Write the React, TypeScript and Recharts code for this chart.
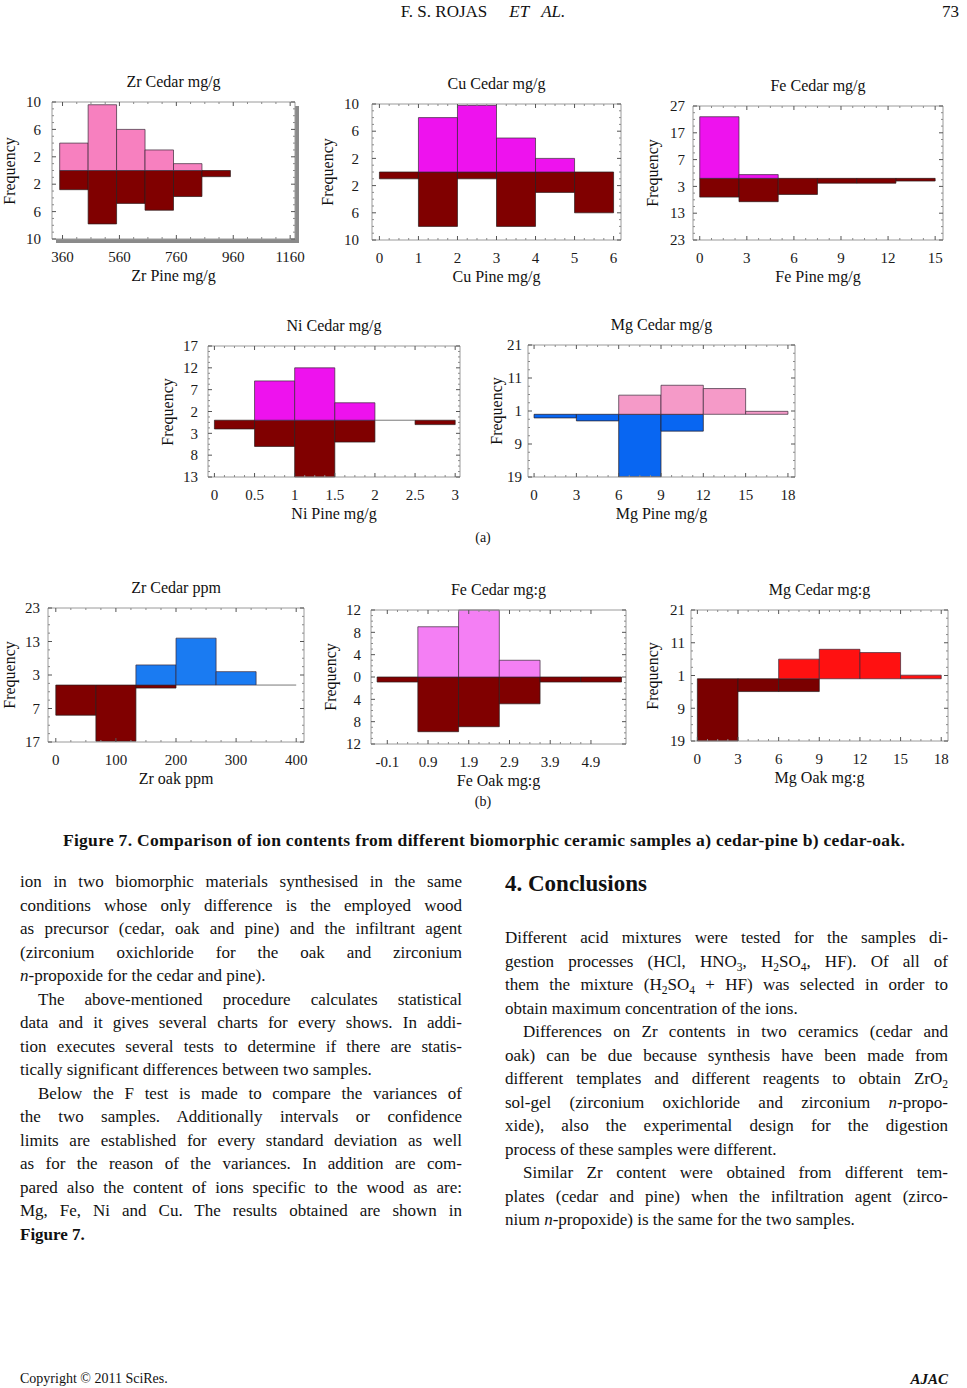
import React from 'react';
import { ComposedChart, XAxis, YAxis, ReferenceArea, ReferenceLine } from 'recharts';

const SERIF = '"Liberation Serif", "Times New Roman", serif';

// ---------- (a) cedar vs pine ----------
const zrPineBinEdges = [350, 450, 550, 650, 750, 850, 950];
const zrCedarCounts = [4, 9.6, 6, 3, 1, 0];
const zrPineCounts = [2.8, 7.8, 4.8, 5.8, 3.8, 0.9];
const zrPineTicks = [360, 560, 760, 960, 1160];

const cuBinEdges = [0, 1, 2, 3, 4, 5, 6];
const cuCedarCounts = [0, 8, 9.8, 5, 2, 0];
const cuPineCounts = [1, 8, 1, 8, 3, 6];
const cuTicks = [0, 1, 2, 3, 4, 5, 6];

const fePineBinEdges = [0, 2.5, 5, 7.5, 10, 12.5, 15];
const feCedarCounts = [23, 1.4, 0, 0, 0, 0];
const fePineCounts = [7, 8.7, 6, 1.8, 1.8, 1];
const fePineTicks = [0, 3, 6, 9, 12, 15];

const niBinEdges = [0, 0.5, 1, 1.5, 2, 2.5, 3];
const niCedarCounts = [0, 9, 12, 4, 0, 0];
const niPineCounts = [2, 6, 13, 5, 0, 1];
const niTicks = [0, 0.5, 1, 1.5, 2, 2.5, 3];

const mgPineBinEdges = [0, 3, 6, 9, 12, 15, 18];
const mgCedarCounts = [0, 0, 5.8, 8.8, 7.8, 0.9];
const mgPineCounts = [1.1, 2, 18.9, 5.1, 0, 0];
const mgPineTicks = [0, 3, 6, 9, 12, 15, 18];

// ---------- (b) cedar vs oak ----------
const zrOakBinEdges = [0, 66.7, 133.3, 200, 266.7, 333.3, 400];
const zrCedarPpm = [0, 0, 6, 14, 4, 0];
const zrOakPpm = [9, 16.8, 0.9, 0, 0, 0];
const zrOakTicks = [0, 100, 200, 300, 400];

const feOakBinEdges = [-0.35, 0.65, 1.65, 2.65, 3.65, 4.65, 5.65];
const feCedarOakCounts = [0, 9, 12, 3, 0, 0];
const feOakCounts = [0.9, 9.8, 8.9, 4.8, 0.9, 0.9];
const feOakTicks = [-0.1, 0.9, 1.9, 2.9, 3.9, 4.9];

const mgOakBinEdges = [0, 3, 6, 9, 12, 15, 18];
const mgCedarOakCounts = [0, 0, 6, 9, 8, 1.1];
const mgOakCounts = [19, 3.9, 3.9, 0, 0, 0];
const mgOakTicks = [0, 3, 6, 9, 12, 15, 18];

// ---------- frequency tick labels ----------
const freqTicksZrCu = [10, 6, 2, -2, -6, -10];
const freqTicksFe = [27, 17, 7, -3, -13, -23];
const freqTicksNi = [17, 12, 7, 2, -3, -8, -13];
const freqTicksMg = [21, 11, 1, -9, -19];
const freqTicksZrOak = [23, 13, 3, -7, -17];
const freqTicksFeOak = [12, 8, 4, 0, -4, -8, -12];

const withMinor = (ticks: number[], n: number) => {
  const s = [...ticks].sort((a, b) => a - b);
  const out: number[] = [];
  for (let i = 0; i < s.length; i++) {
    out.push(s[i]);
    if (i < s.length - 1)
      for (let k = 1; k < n; k++) out.push(+(s[i] + ((s[i + 1] - s[i]) * k) / n).toFixed(4));
  }
  return out;
};

type Box = { l: number; t: number; r: number; b: number };
type HistProps = {
  title: string;
  xTitle: string;
  edges: number[];
  top: number[];
  bottom: number[];
  xTicks: number[];
  xDomain: [number, number];
  yTicks: number[];
  topColor: string;
  bottomColor: string;
  box: Box;
  yGap: number;
  freqDx: number;
  shadow?: boolean;
};

const PL = 60, PT = 12, PR = 15, PB = 30;
const FRAME = '#9a9a9a';
const LABEL_FILL = '#1a1a1a';

type Side = 'left' | 'right' | 'top' | 'bottom';
const makeTick = (side: Side, majors: number[], gap: number, fmt: (v: number) => string) => (props: any) => {
  const { x, y, payload } = props;
  const v = payload ? payload.value : 0;
  const isMajor = majors.some((m) => Math.abs(m - v) < 1e-6);
  const len = isMajor ? 4 : 2;
  const stroke = isMajor ? '#555' : '#8a8a8a';
  let line = null;
  let label = null;
  if (side === 'left') {
    line = <line x1={x + gap} y1={y} x2={x + gap + len} y2={y} stroke={stroke} strokeWidth={1} />;
    if (isMajor)
      label = (
        <text x={x} y={y} dy="0.35em" textAnchor="end" fontSize={15} fontFamily={SERIF} fill={LABEL_FILL}>
          {fmt(v)}
        </text>
      );
  } else if (side === 'bottom') {
    line = <line x1={x} y1={y - gap} x2={x} y2={y - gap - len} stroke={stroke} strokeWidth={1} />;
    if (isMajor)
      label = (
        <text x={x} y={y} dy="0.71em" textAnchor="middle" fontSize={15} fontFamily={SERIF} fill={LABEL_FILL}>
          {fmt(v)}
        </text>
      );
  } else if (side === 'right') {
    line = <line x1={x} y1={y} x2={x - len} y2={y} stroke={stroke} strokeWidth={1} />;
  } else {
    line = <line x1={x} y1={y} x2={x} y2={y + len} stroke={stroke} strokeWidth={1} />;
  }
  return (
    <g>
      {line}
      {label}
    </g>
  );
};

function HistChart(p: HistProps) {
  const { l, t, r, b } = p.box;
  const W = r - l + PL + PR;
  const H = b - t + PT + PB;
  const rows = p.top.map((v, i) => ({ from: p.edges[i], to: p.edges[i + 1], top: v, bottom: p.bottom[i] }));
  const yDomain: [number, number] = [Math.min(...p.yTicks), Math.max(...p.yTicks)];
  const xAll = withMinor(p.xTicks, 4);
  const yAll = withMinor(p.yTicks, 4);
  const xFmt = (v: number) => String(v);
  const yFmt = (v: number) => String(Math.abs(v));
  const xGap = 12;
  const cx = (l + r) / 2;
  return (
    <>
      {p.shadow && (
        <div style={{ position: 'absolute', left: l + 4, top: t + 4, width: r - l, height: b - t, background: '#8a8a8a' }} />
      )}
      {p.shadow && (
        <div style={{ position: 'absolute', left: l, top: t, width: r - l, height: b - t, background: '#fff' }} />
      )}
      <div style={{ position: 'absolute', left: cx, top: t - 20, transform: 'translate(-50%, -50%)', whiteSpace: 'nowrap', fontSize: 16 }}>
        {p.title}
      </div>
      <div style={{ position: 'absolute', left: cx, top: b + 37, transform: 'translate(-50%, -50%)', whiteSpace: 'nowrap', fontSize: 16 }}>
        {p.xTitle}
      </div>
      <div
        style={{
          position: 'absolute',
          left: l - p.freqDx,
          top: (t + b) / 2,
          transform: 'translate(-50%, -50%) rotate(-90deg)',
          whiteSpace: 'nowrap',
          fontSize: 16,
        }}
      >
        Frequency
      </div>
      <div style={{ position: 'absolute', left: l - PL, top: t - PT }}>
        <ComposedChart width={W} height={H} margin={{ top: PT - 1, right: PR - 1, bottom: 0, left: 10 }} data={rows}>
          <XAxis xAxisId={0} dataKey="from" type="number" allowDataOverflow interval={0} domain={p.xDomain} ticks={xAll}
            height={PB} tickSize={0} tickMargin={xGap} tickLine={false} axisLine={{ stroke: FRAME }}
            tick={makeTick('bottom', p.xTicks, xGap, xFmt)} />
          <XAxis xAxisId="t" orientation="top" dataKey="from" type="number" allowDataOverflow interval={0} domain={p.xDomain}
            ticks={xAll} height={1} tickSize={0} tickMargin={0} tickLine={false} axisLine={{ stroke: FRAME }}
            tick={makeTick('top', p.xTicks, 0, xFmt)} />
          <YAxis yAxisId={0} dataKey="top" type="number" allowDataOverflow interval={0} domain={yDomain} ticks={yAll}
            width={PL - 10} tickSize={0} tickMargin={p.yGap} tickLine={false} axisLine={{ stroke: FRAME }}
            tick={makeTick('left', p.yTicks, p.yGap, yFmt)} />
          <YAxis yAxisId="r" orientation="right" dataKey="top" type="number" allowDataOverflow interval={0} domain={yDomain}
            ticks={yAll} width={1} tickSize={0} tickMargin={0} tickLine={false} axisLine={{ stroke: FRAME }}
            tick={makeTick('right', p.yTicks, 0, yFmt)} />
          {rows.map((d, i) =>
            d.bottom > 0 ? (
              <ReferenceArea key={'b' + i} x1={d.from} x2={d.to} y1={-d.bottom} y2={0} fill={p.bottomColor}
                fillOpacity={1} stroke="#2a1a1a" strokeWidth={0.7} ifOverflow="visible" />
            ) : null
          )}
          {rows.map((d, i) =>
            d.top > 0 ? (
              <ReferenceArea key={'t' + i} x1={d.from} x2={d.to} y1={0} y2={d.top} fill={p.topColor}
                fillOpacity={1} stroke="#3a2a3a" strokeWidth={0.7} ifOverflow="visible" />
            ) : null
          )}
          {rows.map((d, i) =>
            d.top === 0 && d.bottom === 0 ? (
              <ReferenceLine key={'z' + i} segment={[{ x: d.from, y: 0 }, { x: d.to, y: 0 }]} stroke="#555"
                strokeWidth={0.8} ifOverflow="visible" />
            ) : null
          )}
        </ComposedChart>
      </div>
    </>
  );
}

const MAGENTA = '#EE12EE';
const MAROON = '#800000';

type TL = { c: React.ReactNode; j: boolean; ind?: boolean };
const sub = (s: string) => <sub style={{ fontSize: '0.68em', verticalAlign: 'sub', lineHeight: 0 }}>{s}</sub>;

const leftLines: TL[] = [
  { c: 'ion in two biomorphic materials synthesised in the same', j: true },
  { c: 'conditions whose only difference is the employed wood', j: true },
  { c: 'as precursor (cedar, oak and pine) and the infiltrant agent', j: true },
  { c: '(zirconium oxichloride for the oak and zirconium', j: true },
  { c: <><i>n</i>-propoxide for the cedar and pine).</>, j: false },
  { c: 'The above-mentioned procedure calculates statistical', j: true, ind: true },
  { c: 'data and it gives several charts for every shows. In addi-', j: true },
  { c: 'tion executes several tests to determine if there are statis-', j: true },
  { c: 'tically significant differences between two samples.', j: false },
  { c: 'Below the F test is made to compare the variances of', j: true, ind: true },
  { c: 'the two samples. Additionally intervals or confidence', j: true },
  { c: 'limits are established for every standard deviation as well', j: true },
  { c: 'as for the reason of the variances. In addition are com-', j: true },
  { c: 'pared also the content of ions specific to the wood as are:', j: true },
  { c: 'Mg, Fe, Ni and Cu. The results obtained are shown in', j: true },
  { c: <b>Figure 7.</b>, j: false },
];

const rightLines: TL[] = [
  { c: 'Different acid mixtures were tested for the samples di-', j: true },
  { c: <>gestion processes (HCl, HNO{sub('3')}, H{sub('2')}SO{sub('4')}, HF). Of all of</>, j: true },
  { c: <>them the mixture (H{sub('2')}SO{sub('4')} + HF) was selected in order to</>, j: true },
  { c: 'obtain maximum concentration of the ions.', j: false },
  { c: 'Differences on Zr contents in two ceramics (cedar and', j: true, ind: true },
  { c: 'oak) can be due because synthesis have been made from', j: true },
  { c: <>different templates and different reagents to obtain ZrO{sub('2')}</>, j: true },
  { c: <>sol-gel (zirconium oxichloride and zirconium <i>n</i>-propo-</>, j: true },
  { c: 'xide), also the experimental design for the digestion', j: true },
  { c: 'process of these samples were different.', j: false },
  { c: 'Similar Zr content were obtained from different tem-', j: true, ind: true },
  { c: 'plates (cedar and pine) when the infiltration agent (zirco-', j: true },
  { c: <>nium <i>n</i>-propoxide) is the same for the two samples.</>, j: false },
];

const LH = 23.5;
const TEXT_SIZE = 17;

function Column({ lines, x, y0, w }: { lines: TL[]; x: number; y0: number; w: number }) {
  return (
    <>
      {lines.map((ln, i) => {
        const ind = ln.ind ? 18 : 0;
        return (
          <div
            key={i}
            style={{
              position: 'absolute',
              left: x + ind,
              top: y0 + i * LH - LH / 2,
              width: w - ind,
              height: LH,
              lineHeight: LH + 'px',
              fontSize: TEXT_SIZE,
              textAlign: ln.j ? 'justify' : 'left',
              textAlignLast: ln.j ? 'justify' : 'left',
              whiteSpace: ln.j ? 'normal' : 'nowrap',
            }}
          >
            {ln.c}
          </div>
        );
      })}
    </>
  );
}

export default function App() {
  return (
    <div
      style={{
        position: 'absolute',
        left: 0,
        top: 0,
        width: 967,
        height: 1388,
        background: '#fff',
        color: '#111',
        fontFamily: SERIF,
        overflow: 'hidden',
      }}
    >
      {/* running head */}
      <div style={{ position: 'absolute', left: 483, top: 12, transform: 'translate(-50%, -50%)', fontSize: 17, whiteSpace: 'nowrap' }}>
        F. S. ROJAS<i style={{ marginLeft: 22 }}>ET</i>
        <i style={{ marginLeft: 12 }}>AL.</i>
      </div>
      <div style={{ position: 'absolute', right: 8, top: 12, transform: 'translateY(-50%)', fontSize: 17 }}>73</div>

      {/* (a) */}
      <HistChart title="Zr Cedar mg/g" xTitle="Zr Pine mg/g" edges={zrPineBinEdges} top={zrCedarCounts} bottom={zrPineCounts}
        xTicks={zrPineTicks} xDomain={[323, 1177]} yTicks={freqTicksZrCu} topColor="#F780BF" bottomColor={MAROON}
        box={{ l: 52, t: 102, r: 295, b: 239 }} yGap={11} freqDx={42} shadow />
      <HistChart title="Cu Cedar mg/g" xTitle="Cu Pine mg/g" edges={cuBinEdges} top={cuCedarCounts} bottom={cuPineCounts}
        xTicks={cuTicks} xDomain={[-0.19, 6.19]} yTicks={freqTicksZrCu} topColor={MAGENTA} bottomColor={MAROON}
        box={{ l: 372, t: 104, r: 621, b: 240 }} yGap={13} freqDx={44} />
      <HistChart title="Fe Cedar mg/g" xTitle="Fe Pine mg/g" edges={fePineBinEdges} top={feCedarCounts} bottom={fePineCounts}
        xTicks={fePineTicks} xDomain={[-0.43, 15.5]} yTicks={freqTicksFe} topColor={MAGENTA} bottomColor={MAROON}
        box={{ l: 693, t: 106, r: 943, b: 240 }} yGap={8} freqDx={40} />
      <HistChart title="Ni Cedar mg/g" xTitle="Ni Pine mg/g" edges={niBinEdges} top={niCedarCounts} bottom={niPineCounts}
        xTicks={niTicks} xDomain={[-0.08, 3.06]} yTicks={freqTicksNi} topColor={MAGENTA} bottomColor={MAROON}
        box={{ l: 208, t: 346, r: 460, b: 477 }} yGap={10} freqDx={40} />
      <HistChart title="Mg Cedar mg/g" xTitle="Mg Pine mg/g" edges={mgPineBinEdges} top={mgCedarCounts} bottom={mgPineCounts}
        xTicks={mgPineTicks} xDomain={[-0.43, 18.5]} yTicks={freqTicksMg} topColor="#F59AC8" bottomColor="#0866F2"
        box={{ l: 528, t: 345, r: 795, b: 477 }} yGap={6} freqDx={31} />
      <div style={{ position: 'absolute', left: 483, top: 538, transform: 'translate(-50%, -50%)', fontSize: 14 }}>(a)</div>

      {/* (b) */}
      <HistChart title="Zr Cedar ppm" xTitle="Zr oak ppm" edges={zrOakBinEdges} top={zrCedarPpm} bottom={zrOakPpm}
        xTicks={zrOakTicks} xDomain={[-13, 413]} yTicks={freqTicksZrOak} topColor="#1A7BF2" bottomColor={MAROON}
        box={{ l: 48, t: 608, r: 304, b: 742 }} yGap={8} freqDx={38} />
      <HistChart title="Fe Cedar mg:g" xTitle="Fe Oak mg:g" edges={feOakBinEdges} top={feCedarOakCounts} bottom={feOakCounts}
        xTicks={feOakTicks} xDomain={[-0.5, 5.76]} yTicks={freqTicksFeOak} topColor="#F47FF4" bottomColor={MAROON}
        box={{ l: 371, t: 610, r: 626, b: 744 }} yGap={10} freqDx={40} />
      <HistChart title="Mg Cedar mg:g" xTitle="Mg Oak mg:g" edges={mgOakBinEdges} top={mgCedarOakCounts} bottom={mgOakCounts}
        xTicks={mgOakTicks} xDomain={[-0.47, 18.5]} yTicks={freqTicksMg} topColor="#FF1111" bottomColor="#7A0000"
        box={{ l: 691, t: 610, r: 948, b: 741 }} yGap={6} freqDx={38} />
      <div style={{ position: 'absolute', left: 483, top: 802, transform: 'translate(-50%, -50%)', fontSize: 14 }}>(b)</div>

      {/* caption */}
      <div style={{ position: 'absolute', left: 484, top: 840, transform: 'translate(-50%, -50%)', fontSize: 17.5, letterSpacing: 0.3, fontWeight: 'bold', whiteSpace: 'nowrap' }}>
        Figure 7. Comparison of ion contents from different biomorphic ceramic samples a) cedar-pine b) cedar-oak.
      </div>

      {/* body text */}
      <Column lines={leftLines} x={20} y0={882} w={442} />
      <div style={{ position: 'absolute', left: 505, top: 884, transform: 'translateY(-50%)', fontSize: 23, fontWeight: 'bold', whiteSpace: 'nowrap' }}>
        4. Conclusions
      </div>
      <Column lines={rightLines} x={505} y0={938} w={443} />

      {/* footer */}
      <div style={{ position: 'absolute', left: 20, top: 1379, transform: 'translateY(-50%)', fontSize: 14, whiteSpace: 'nowrap' }}>
        Copyright © 2011 SciRes.
      </div>
      <div style={{ position: 'absolute', right: 19, top: 1379, transform: 'translateY(-50%)', fontSize: 15, fontWeight: 'bold', fontStyle: 'italic' }}>
        AJAC
      </div>
    </div>
  );
}
